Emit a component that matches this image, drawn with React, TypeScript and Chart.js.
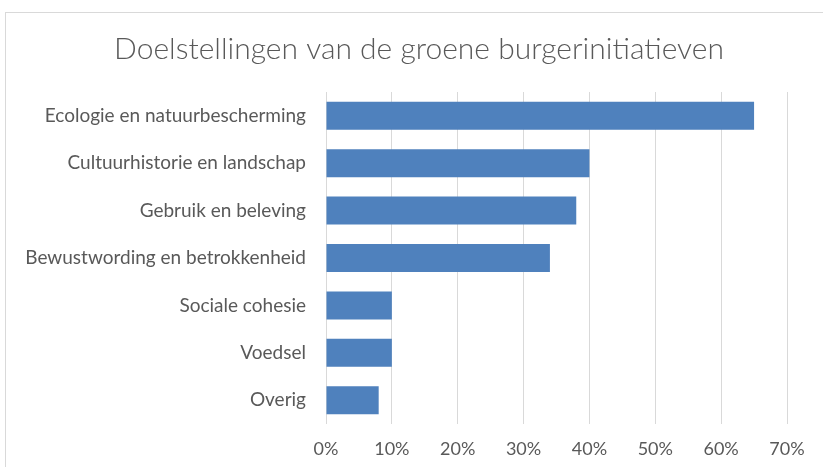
import React, { useEffect, useRef } from "react";
import { Chart, registerables } from "chart.js";

Chart.register(...registerables);

const titleText = "Doelstellingen van de groene burgerinitiatieven";
const categories = [
  "Ecologie en natuurbescherming",
  "Cultuurhistorie en landschap",
  "Gebruik en beleving",
  "Bewustwording en betrokkenheid",
  "Sociale cohesie",
  "Voedsel",
  "Overig",
];
const values = [65, 40, 38, 34, 10, 10, 8];
const xMin = 0;
const xMax = 70;
const xStep = 10;

const frame = {
  id: "frame",
  beforeDraw(chart: any) {
    const ctx = chart.ctx;
    ctx.save();
    ctx.strokeStyle = "#d9d9d9";
    ctx.lineWidth = 1;
    ctx.strokeRect(5.5, 12.5, chart.width + 20, chart.height + 20);
    ctx.restore();
  },
  afterLayout(chart: any) {
    // widen the label clip area so long category labels are not cut
    chart.scales.y.left = 0;
  },
};

export default function App() {
  const ref = useRef<HTMLCanvasElement>(null);
  useEffect(() => {
    document.body.style.margin = "0";
    const c = new Chart(ref.current!, {
      type: "bar",
      data: {
        labels: categories,
        datasets: [
          {
            data: values,
            backgroundColor: "#4f81bd",
            borderWidth: 0,
            categoryPercentage: 1,
            barPercentage: 0.59,
          },
        ],
      },
      plugins: [frame],
      options: {
        indexAxis: "y",
        animation: false,
        responsive: false,
        layout: { padding: { left: 51, right: 36, top: 31, bottom: 0 } },
        plugins: {
          legend: { display: false },
          tooltip: { enabled: false },
          title: {
            display: true,
            text: titleText,
            color: "#595959",
            font: { family: "Lato", size: 30, weight: "300" },
            padding: { top: 0, bottom: 25 },
          },
        },
        scales: {
          x: {
            min: xMin,
            max: xMax,
            ticks: {
              stepSize: xStep,
              color: "#595959",
              font: { family: "Lato", size: 18 },
              padding: 14,
              callback: (v: any) => v + "%",
            },
            grid: { color: "#d9d9d9", drawTicks: false, lineWidth: 1 },
            border: { display: false },
            afterFit: (s: any) => {
              s.height = 43;
            },
          },
          y: {
            ticks: {
              color: "#595959",
              font: { family: "Lato", size: 19 },
              padding: 20,
            },
            grid: { display: false, drawTicks: false },
            border: { display: false },
            afterFit: (s: any) => {
              s.width = 275;
            },
          },
        },
      },
    } as any);
    return () => c.destroy();
  }, []);
  return <canvas ref={ref} width={823} height={467} style={{ display: "block" }} />;
}
